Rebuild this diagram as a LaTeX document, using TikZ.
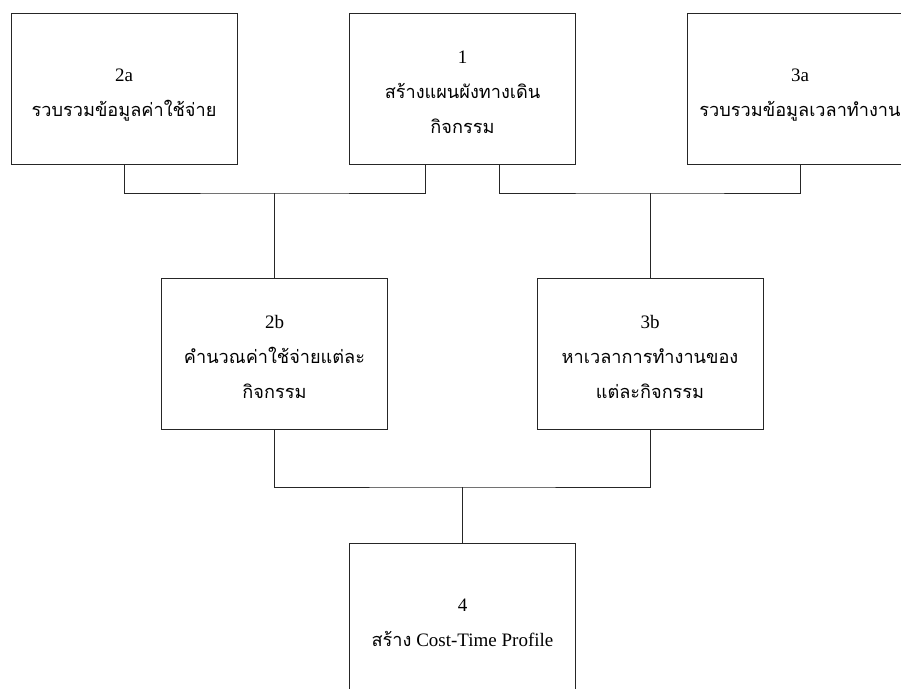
\documentclass[tikz,border=0pt]{standalone}
\usepackage{fontspec}
\setmainfont{Liberation Serif}
\newfontfamily\thaifont[Script=Thai,Scale=0.955]{Loma}
\newcommand\thx[1]{{\thaifont #1}}
\newcommand\upstrut{\rule{0pt}{27pt}}
\newcommand\downstrut{\rule[-7pt]{0pt}{7pt}}
\begin{document}
\begin{tikzpicture}[x=1pt,y=-1pt,
  stepbox/.style={draw=black!85, line width=0.8pt, rectangle,
    minimum width=226pt, minimum height=151pt, inner sep=0pt,
    align=center, font=\fontsize{19}{35}\selectfont},
  link/.style={draw=black!85, line width=0.8pt}]
\useasboundingbox (0,0) rectangle (901,688);
\clip (0,0) rectangle (901,688);

% process boxes
\node[stepbox] (a2) at (124,88.5)
  {\upstrut 2a\\ \thx{รวบรวมข้อมูลค่าใช้จ่าย}\downstrut};
\node[stepbox] (b1) at (462.5,88.5)
  {\upstrut 1\\ \thx{สร้างแผนผังทางเดิน}\\ \thx{กิจกรรม}\downstrut};
\node[stepbox] (c3) at (800,88.5)
  {\upstrut 3a\\ \thx{รวบรวมข้อมูลเวลาทำงาน}\downstrut};
\node[stepbox] (b2) at (274.5,353.5)
  {\upstrut 2b\\ \thx{คำนวณค่าใช้จ่ายแต่ละ}\\ \thx{กิจกรรม}\downstrut};
\node[stepbox] (b3) at (650,353.5)
  {\upstrut 3b\\ \thx{หาเวลาการทำงานของ}\\ \thx{แต่ละกิจกรรม}\downstrut};
\node[stepbox] (d4) at (462.5,618.5)
  {\upstrut 4\\ \thx{สร้าง} Cost-Time Profile\downstrut};

% junction points of the connectors
\coordinate (jl) at (274.5,193);
\coordinate (jr) at (650,193);
\coordinate (jb) at (462.5,487);
\coordinate (b1l) at ([xshift=-37pt]b1.south);
\coordinate (b1r) at ([xshift=37pt]b1.south);

% connectors
\draw[link] (a2.south) |- (jl) -| (b1l);
\draw[link] (jl) -- (b2.north);
\draw[link] (b1r) |- (jr) -| (c3.south);
\draw[link] (jr) -- (b3.north);
\draw[link] (b2.south) |- (jb) -| (b3.south);
\draw[link] (jb) -- (d4.north);
\end{tikzpicture}
\end{document}
